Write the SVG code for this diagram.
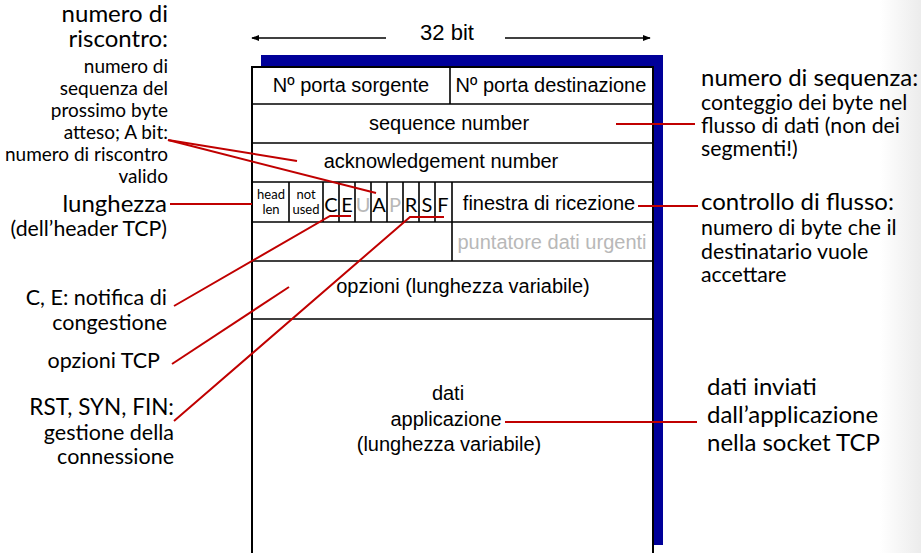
<svg xmlns="http://www.w3.org/2000/svg" width="921" height="553" viewBox="0 0 921 553">
<defs>
<marker id="ah" viewBox="0 0 10 10" refX="9" refY="5" markerWidth="8" markerHeight="8" markerUnits="userSpaceOnUse" orient="auto"><path d="M0,1 L10,5 L0,9 z" fill="#000"/></marker>
<linearGradient id="edge" x1="0" y1="0" x2="1" y2="0"><stop offset="0" stop-color="#fff"/><stop offset="1" stop-color="#ececec"/></linearGradient>
<style>
.a{font-family:"Liberation Sans",Arial,sans-serif;font-size:20px;fill:#000;text-anchor:middle}
.g{fill:#b8b8b8}
.c{font-family:Lato,"Open Sans",sans-serif;fill:#000}
.L{font-size:24px}
.M{font-size:21.5px}
.S{font-size:19px}
.R{font-size:21.3px}
.e{text-anchor:end}
.m{text-anchor:middle}
.ln{stroke:#000;stroke-width:1.6;fill:none}
.red{stroke:#c00000;stroke-width:2;fill:none}
</style>
</defs>
<rect x="0" y="0" width="921" height="553" fill="#fff"/>
<rect x="880" y="0" width="41" height="553" fill="url(#edge)"/>

<g id="width-label">
<text class="a" x="447" y="40" style="font-size:22px">32 bit</text>
<line class="ln" x1="386" y1="38" x2="252" y2="38" marker-end="url(#ah)"/>
<line class="ln" x1="505" y1="38" x2="650" y2="38" marker-end="url(#ah)"/>
</g>

<g id="segment">
<rect x="261" y="55" width="402" height="490" fill="#000099"/>
<rect x="252" y="67" width="401" height="500" fill="#fff" stroke="#000" stroke-width="2"/>
<g class="ln">
<line x1="252" y1="104" x2="653" y2="104"/>
<line x1="252" y1="143" x2="653" y2="143"/>
<line x1="252" y1="182" x2="653" y2="182"/>
<line x1="252" y1="222" x2="653" y2="222"/>
<line x1="252" y1="261" x2="653" y2="261"/>
<line x1="252" y1="319" x2="653" y2="319"/>
<line x1="450" y1="67" x2="450" y2="104"/>
<line x1="452" y1="182" x2="452" y2="261"/>
<line x1="289" y1="182" x2="289" y2="222"/>
<line x1="323" y1="182" x2="323" y2="222"/>
<line x1="339" y1="182" x2="339" y2="222"/>
<line x1="355" y1="182" x2="355" y2="222"/>
<line x1="371" y1="182" x2="371" y2="222"/>
<line x1="387" y1="182" x2="387" y2="222"/>
<line x1="403" y1="182" x2="403" y2="222"/>
<line x1="419" y1="182" x2="419" y2="222"/>
<line x1="435" y1="182" x2="435" y2="222"/>
</g>
</g>

<g id="fields">
<text class="a" x="351" y="92">Nº porta sorgente</text>
<text class="a" x="551" y="92">Nº porta destinazione</text>
<text class="a" x="449" y="130">sequence number</text>
<text class="a" x="441" y="168">acknowledgement number</text>
<text class="a" x="549" y="210">finestra di ricezione</text>
<text class="a g" x="552" y="249">puntatore dati urgenti</text>
<text class="a" x="463" y="293">opzioni (lunghezza variabile)</text>
<text class="a" x="448" y="400">dati</text>
<text class="a" x="446" y="426">applicazione</text>
<text class="a" x="449" y="451">(lunghezza variabile)</text>
</g>

<g id="flags" class="c m" style="font-size:20px">
<text x="271" y="199" style="font-size:13px">head</text>
<text x="271" y="214" style="font-size:13px">len</text>
<text x="306" y="199" style="font-size:13px">not</text>
<text x="306" y="214" style="font-size:13px">used</text>
<text x="331" y="212">C</text>
<text x="347" y="212">E</text>
<text x="363" y="212" class="g">U</text>
<text x="379" y="212">A</text>
<text x="395" y="212" class="g">P</text>
<text x="411" y="212">R</text>
<text x="427" y="212">S</text>
<text x="443" y="212">F</text>
</g>

<g id="connectors">
<path class="red" d="M616,124 H695"/>
<path class="red" d="M638,206 H698"/>
<path class="red" d="M505,422 H697"/>
<path class="red" d="M170,204 H252"/>
<path class="red" d="M168,140 L297,161"/>
<path class="red" d="M168,140 L376,193"/>
<path class="red" d="M174,306 L330,216 H351"/>
<path class="red" d="M172,364 L289,287"/>
<path class="red" d="M174,421 L410,217 H444"/>
</g>

<g id="note-riscontro" class="c e">
<text class="L" x="168" y="22">numero di</text>
<text class="L" x="168" y="47">riscontro:</text>
<text class="S" x="168" y="73">numero di</text>
<text class="S" x="168" y="95">sequenza del</text>
<text class="S" x="168" y="117">prossimo byte</text>
<text class="S" x="168" y="139">atteso; A bit:</text>
<text class="S" x="168" y="161">numero di riscontro</text>
<text class="S" x="168" y="183">valido</text>
</g>
<g id="note-lunghezza" class="c e">
<text class="L" x="167" y="212">lunghezza</text>
<text class="R" x="167" y="236">(dell’header TCP)</text>
</g>
<g id="note-ce" class="c e">
<text class="M" x="167" y="305">C, E: notifica di</text>
<text class="M" x="167" y="330">congestione</text>
</g>
<g id="note-opzioni" class="c e">
<text class="M" x="160" y="368">opzioni TCP</text>
</g>
<g id="note-rsf" class="c e">
<text class="M" x="174" y="415" style="font-size:22.5px">RST, SYN, FIN:</text>
<text class="M" x="174" y="440">gestione della</text>
<text class="M" x="174" y="464">connessione</text>
</g>
<g id="note-sequenza" class="c">
<text class="L" x="701" y="86">numero di sequenza:</text>
<text class="R" x="701" y="110">conteggio dei byte nel</text>
<text class="R" x="701" y="133">flusso di dati (non dei</text>
<text class="R" x="701" y="156">segmenti!)</text>
</g>
<g id="note-flusso" class="c">
<text class="L" x="701" y="210">controllo di flusso:</text>
<text class="R" x="701" y="235">numero di byte che il</text>
<text class="R" x="701" y="259">destinatario vuole</text>
<text class="R" x="701" y="282">accettare</text>
</g>
<g id="note-dati" class="c">
<text class="L" x="707" y="395">dati inviati</text>
<text class="L" x="707" y="423">dall’applicazione</text>
<text class="L" x="707" y="451">nella socket TCP</text>
</g>
</svg>
